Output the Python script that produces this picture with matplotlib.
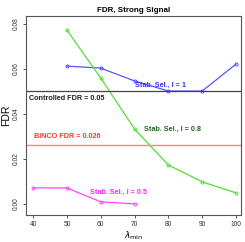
import matplotlib.pyplot as plt

plt.rcParams['font.family'] = ['Liberation Sans', 'DejaVu Sans']

lam = [40, 50, 60, 70, 80, 90, 100]
x_blue = [50, 60, 70, 80, 90, 100]
fdr_l1 = [0.0613, 0.0604, 0.0547, 0.0502, 0.0502, 0.0622]
x_green = [50, 60, 70, 80, 90, 100]
fdr_l08 = [0.0773, 0.0560, 0.0333, 0.0173, 0.0098, 0.0049]
x_mag = [40, 50, 60, 70]
fdr_l05 = [0.0071, 0.0071, 0.0009, 0.0000]
controlled = 0.05
binco = 0.026

fig = plt.figure(figsize=(2.45, 2.42), dpi=100)
ax = fig.add_axes([0.106, 0.112, 0.878, 0.822])

ax.plot(x_blue, fdr_l1, color='#5555ff', lw=0.9, marker='o', ms=2.2, mfc='none', mew=0.7)
ax.plot(x_green, fdr_l08, color='#55dd33', lw=0.9, marker='o', ms=2.2, mfc='none', mew=0.7)
ax.plot(x_mag, fdr_l05, color='#ff44ff', lw=0.9, marker='o', ms=2.2, mfc='none', mew=0.7)
ax.axhline(controlled, color='#444444', lw=0.9)
ax.axhline(binco, color='#ff8080', lw=1.0)

fs = 5.2
ax.text(70, 0.0529, 'Stab. Sel., l = 1', color='#3333ff', fontsize=fs, fontweight='bold', ha='left', va='center')
ax.text(72.8, 0.0333, 'Stab. Sel., l = 0.8', color='#226622', fontsize=fs, fontweight='bold', ha='left', va='center')
ax.text(56.9, 0.0053, 'Stab. Sel., l = 0.5', color='#ff22ff', fontsize=fs, fontweight='bold', ha='left', va='center')
ax.text(38.8, 0.0467, 'Controlled FDR = 0.05', color='#222222', fontsize=fs, fontweight='bold', ha='left', va='center')
ax.text(40.3, 0.0298, 'BINCO FDR = 0.026', color='#ff3333', fontsize=fs, fontweight='bold', ha='left', va='center')

ax.set_xlim(37.9, 101.5)
ax.set_ylim(-0.0049, 0.0836)
ax.set_xticks(lam)
ax.set_yticks([0.0, 0.02, 0.04, 0.06, 0.08])
ax.set_yticklabels(['0.00', '0.02', '0.04', '0.06', '0.08'], rotation=90, va='center')
ax.tick_params(labelsize=4.8, length=2.5, width=0.6, pad=2, colors='#333333')
for s in ax.spines.values():
    s.set_linewidth(0.8)
    s.set_color('#555555')

ax.set_title('FDR, Strong Signal', fontsize=5.8, fontweight='bold', pad=3)
ax.set_ylabel('FDR', fontsize=7.5, labelpad=1)
ax.set_xlabel(r'$\lambda_{\min}$', fontsize=6.5, labelpad=1)

fig.savefig('out.png', dpi=100)
